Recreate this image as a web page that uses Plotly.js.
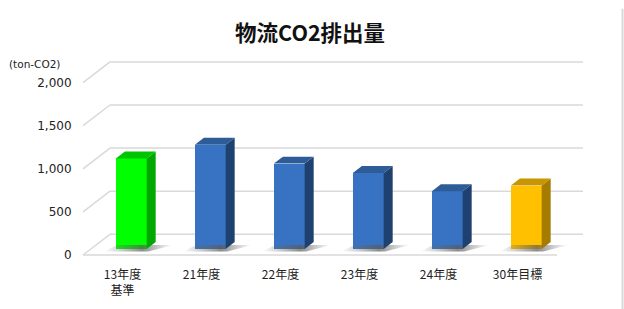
<!DOCTYPE html>
<html>
<head>
<meta charset="utf-8">
<script src="https://cdn.plot.ly/plotly-3.0.1.min.js"></script>
<style>html,body{margin:0;padding:0;background:#fff;}#chart{width:624px;height:309px;}</style>
</head>
<body>
<div id="chart"></div>
<script>
// ---- data ----
var categories = ['13年度<br>基準', '21年度', '22年度', '23年度', '24年度', '30年目標'];
var emissions = [1050, 1210, 990, 880, 670, 735];
var yTicks = [0, 500, 1000, 1500, 2000];
var yTickText = ['0', '500', '1,000', '1,500', '2,000'];
var frontColors = ['#00ff00', '#3773c2', '#3773c2', '#3773c2', '#3773c2', '#ffc000'];
var sideColors  = ['#00a800', '#1f416f', '#1f416f', '#1f416f', '#1f416f', '#a67c00'];
var topColors   = ['#00c400', '#2d5c98', '#2d5c98', '#2d5c98', '#2d5c98', '#c89600'];

// ---- pseudo-3D geometry (style constants) ----
var D = 240;        // wall depth in y units
var B = 70;         // bar base offset (bar sits mid-depth)
var shift = 0.111;  // bar shift in x for depth
var w = 0.39;       // bar front width
var dx = 0.114;     // side depth in x units
var dy = 81;        // side depth in y units
var wallX = 0.054;  // back wall start (paper)
var frontEnd = 0.948;

var idx = categories.map(function(_, i){ return i; });
var traces = [];

// shadows
idx.forEach(function(i){
  var xl = i + shift - w/2, xr = i + shift + w/2;
  traces.push({
    type:'scatter', mode:'lines', hoverinfo:'skip', showlegend:false,
    x:[xl-0.15, xr+0.02, xr+dx+0.22, xl+0.02, xl-0.15],
    y:[B-30, B-30, B+dy*0.55, B+dy*0.55, B-30],
    fill:'toself', line:{width:0},
    fillgradient:{type:'horizontal', colorscale:[[0,'rgba(110,110,110,0)'],[0.55,'rgba(90,90,90,0.7)'],[1,'rgba(110,110,110,0)']]}
  });
});

// front faces
traces.push({
  type:'bar', x:idx, y:emissions, base:B, width:w, offset:shift - w/2,
  marker:{color:frontColors, line:{width:0}}, hoverinfo:'y', showlegend:false
});

// side and top faces
idx.forEach(function(i){
  var v = emissions[i];
  var xl = i + shift - w/2, xr = i + shift + w/2;
  traces.push({
    type:'scatter', mode:'lines', hoverinfo:'skip', showlegend:false,
    x:[xr, xr+dx, xr+dx, xr, xr], y:[B, B+dy, B+v+dy, B+v, B],
    fill:'toself', fillcolor:sideColors[i], line:{width:0}
  });
  traces.push({
    type:'scatter', mode:'lines', hoverinfo:'skip', showlegend:false,
    x:[xl, xl+dx, xr+dx, xr, xl], y:[B+v, B+v+dy, B+v+dy, B+v, B+v],
    fill:'toself', fillcolor:topColors[i], line:{width:0}
  });
});

var gridColor = '#d9d9d9';
var shapes = [];
yTicks.forEach(function(v){
  shapes.push({type:'line', xref:'paper', yref:'y', x0:wallX, x1:1, y0:v+D, y1:v+D, line:{color:gridColor, width:1.5}, layer:'below'});
  shapes.push({type:'line', xref:'paper', yref:'y', x0:0, x1:wallX, y0:v, y1:v+D, line:{color:gridColor, width:1.5}, layer:'below'});
});
shapes.push({type:'line', xref:'paper', yref:'y', x0:0, x1:frontEnd, y0:0, y1:0, line:{color:gridColor, width:1.5}, layer:'below'});
shapes.push({type:'line', xref:'paper', yref:'paper', x0:1.079, x1:1.079, y0:-0.24, y1:1.17, line:{color:gridColor, width:2}});

var layout = {
  width:624, height:309,
  margin:{l:83, r:41, t:45, b:51},
  paper_bgcolor:'#ffffff', plot_bgcolor:'rgba(0,0,0,0)',
  font:{family:'"Noto Sans CJK JP", "DejaVu Sans", sans-serif', color:'#222'},
  title:{text:'<b>物流CO2排出量</b>', x:0.497, xanchor:'center', y:0.893, yanchor:'middle',
    font:{size:21.5, color:'#111', family:'"Noto Sans CJK JP", sans-serif'}},
  xaxis:{range:[-0.5, -0.5 + 500/79], tickvals:idx, ticktext:categories,
    showgrid:false, zeroline:false, showline:false, ticks:'outside', ticklen:6, tickcolor:'rgba(0,0,0,0)',
    tickfont:{size:12, color:'#222', family:'"Noto Sans CJK JP", sans-serif'}, fixedrange:true},
  yaxis:{range:[-35, 2436], tickvals:yTicks, ticktext:yTickText,
    showgrid:false, zeroline:false, showline:false, ticks:'outside', ticklen:8, tickcolor:'rgba(0,0,0,0)',
    tickfont:{size:12, color:'#222', family:'"DejaVu Sans", sans-serif'}, fixedrange:true},
  shapes:shapes,
  annotations:[{text:'(ton-CO2)', xref:'paper', yref:'paper', x:-0.152, y:(258-64)/213, xanchor:'left', yanchor:'middle',
    showarrow:false, font:{size:10.5, color:'#222', family:'"DejaVu Sans", sans-serif'}}],
  bargap:0
};

Plotly.newPlot('chart', traces, layout, {displayModeBar:false, staticPlot:true});
</script>
</body>
</html>
